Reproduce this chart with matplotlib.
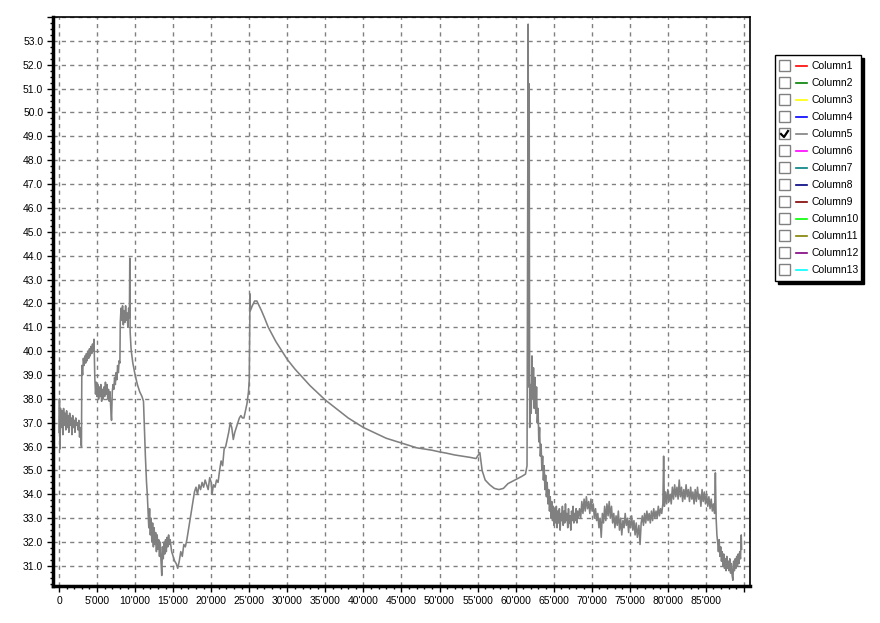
import matplotlib
matplotlib.use("Agg")
import matplotlib.pyplot as plt
from matplotlib.ticker import MultipleLocator, FuncFormatter
from matplotlib.patches import Rectangle
from matplotlib.lines import Line2D

plt.rcParams['font.family'] = ['Liberation Sans', 'DejaVu Sans']

# Column5 readings (sample index, value)
idx_a = [0, 60, 120, 200, 300, 400, 500, 600, 700, 800, 900, 1000, 1100, 1200, 1300,
         1400, 1500, 1600, 1700, 1800, 1900, 2000, 2100, 2200, 2300, 2400, 2500, 2600,
         2700, 2800, 2900, 2950]
val_a = [36.6, 38.0, 35.9, 37.6, 36.8, 37.5, 36.5, 37.6, 36.9, 37.4, 36.7, 37.5, 36.8,
         37.3, 36.6, 37.4, 36.9, 37.2, 36.5, 37.3, 36.8, 37.1, 36.6, 37.2, 36.9, 37.0,
         36.7, 37.1, 36.4, 36.8, 36.1, 36.0]

idx_b = [3000, 3100, 3200, 3300, 3400, 3500, 3600, 3700, 3800, 3900, 4000, 4100, 4200,
         4300, 4400, 4500, 4600, 4700, 4800, 4900, 5000, 5100, 5200, 5300, 5400, 5500,
         5600, 5700, 5800, 5900, 6000, 6100, 6200, 6300, 6400, 6500, 6600, 6700, 6800,
         6900, 7000, 7100, 7200, 7300, 7400, 7500, 7600, 7700, 7800, 7900, 8000]
val_b = [39.4, 39.0, 39.7, 39.4, 39.8, 39.5, 39.9, 39.6, 40.0, 39.7, 40.1, 39.8, 40.2,
         39.9, 40.3, 40.0, 40.5, 38.9, 38.2, 38.7, 38.1, 38.6, 38.0, 38.5, 38.1, 38.6,
         37.9, 38.4, 38.0, 38.5, 38.1, 38.7, 38.2, 38.6, 38.0, 38.4, 37.9, 38.3, 37.6,
         37.1, 38.3, 38.6, 38.4, 38.9, 38.6, 39.1, 38.8, 39.4, 39.1, 39.6, 39.5]

idx_c = [8050, 8150, 8250, 8350, 8450, 8550, 8650, 8750, 8850, 8950, 9050, 9150, 9250,
         9300, 9350, 9450, 9500, 9700, 10000, 10300, 10600, 10900, 11100, 11200, 11350,
         11500, 11600, 11700]
val_c = [41.2, 41.8, 41.3, 41.9, 41.1, 41.7, 41.2, 41.9, 41.3, 41.6, 41.0, 41.8, 41.4,
         43.9, 40.8, 40.2, 40.0, 39.5, 39.0, 38.6, 38.3, 38.1, 37.9, 37.0, 35.6,
         34.5, 34.0, 33.3]

idx_d = [11800, 11900, 12000, 12100, 12200, 12300, 12400, 12500, 12600, 12700, 12800,
         12900, 13000, 13100, 13200, 13300, 13400, 13500, 13600, 13700, 13800, 13900,
         14000, 14100, 14200, 14300, 14400, 14500, 14600, 14800, 15000, 15200, 15400,
         15600, 15800, 16000, 16200, 16400, 16600, 16800]
val_d = [32.6, 33.4, 32.3, 33.0, 32.0, 32.8, 31.8, 32.6, 31.9, 32.4, 31.6, 32.3, 31.7,
         32.1, 31.4, 32.0, 31.2, 30.6, 31.8, 31.3, 32.0, 31.5, 32.1, 31.6, 32.2, 31.8,
         32.3, 31.9, 32.1, 31.6, 31.4, 31.2, 31.1, 30.9, 31.2, 31.6, 31.4, 31.9, 31.8,
         32.1]

idx_e = [17000, 17200, 17400, 17600, 17800, 18000, 18200, 18400, 18600, 18800, 19000,
         19200, 19400, 19600, 19800, 20000, 20100, 20300, 20500, 20700, 20900, 21100,
         21300, 21500, 21700, 21900, 22100, 22300, 22500, 22700, 22900, 23100, 23300,
         23500, 23700, 23900, 24100, 24300, 24500, 24700, 24900, 25000]
val_e = [32.5, 32.9, 33.3, 33.7, 34.1, 34.3, 34.0, 34.4, 34.2, 34.5, 34.3, 34.6, 34.4,
         34.2, 34.7, 34.5, 34.0, 34.4, 34.3, 34.6, 34.5, 35.0, 35.4, 35.2, 35.9, 36.0,
         36.3, 36.6, 37.0, 36.8, 36.3, 36.6, 36.8, 37.0, 37.2, 37.3, 37.2, 37.2, 37.5,
         37.8, 38.3, 38.8]

idx_f = [25100, 25150, 25400, 25700, 26000, 26300, 26600, 27000, 27500, 28000, 28500,
         29000, 29500, 30000, 31000, 32000, 33000, 34000, 35000, 36000, 37000, 38000,
         39000, 40000, 41000, 42000, 43000, 44000, 45000, 46000, 47000, 48000, 49000,
         50000, 51000, 52000, 53000, 54000, 54800, 55300, 55600, 56000, 56600, 57200,
         57800, 58400, 59000, 59600, 60200, 60800, 61300, 61500]
val_f = [42.4, 41.7, 41.9, 42.1, 42.1, 41.9, 41.7, 41.4, 41.0, 40.7, 40.4, 40.15, 39.9,
         39.65, 39.25, 38.9, 38.55, 38.25, 37.95, 37.7, 37.45, 37.2, 37.0, 36.8, 36.65,
         36.5, 36.35, 36.25, 36.15, 36.05, 35.95, 35.9, 35.85, 35.78, 35.72, 35.65, 35.6,
         35.55, 35.5, 35.75, 35.0, 34.6, 34.4, 34.25, 34.2, 34.25, 34.45, 34.55, 34.65,
         34.75, 34.85, 35.2]

idx_g = [61650, 61720, 61780, 61850, 61950, 62050, 62150, 62250, 62350, 62450, 62550,
         62650, 62750, 62850, 62950, 63050, 63150, 63250, 63350, 63450, 63550, 63650,
         63750, 63850, 63950, 64050, 64150, 64250, 64350, 64450, 64550, 64650, 64750,
         64850, 64950, 65050, 65150, 65250]
val_g = [53.7, 38.5, 51.2, 36.8, 38.6, 37.4, 39.8, 38.0, 39.3, 37.6, 38.9, 37.4, 38.5,
         37.0, 37.6, 36.2, 36.8, 35.6, 36.1, 35.0, 35.6, 34.6, 35.2, 34.2, 34.8, 33.9,
         34.5, 33.6, 34.2, 33.3, 33.9, 33.0, 33.7, 32.9, 33.5, 32.7, 33.4, 32.8]

idx_h = [65350, 65450, 65550, 65650, 65750, 65850, 65950, 66050, 66150, 66250, 66350,
         66450, 66550, 66650, 66750, 66850, 66950, 67050, 67150, 67250, 67350, 67450,
         67550, 67650, 67750, 67850, 67950, 68050, 68150, 68250, 68400, 68550, 68700,
         68850, 69000, 69150, 69300, 69450, 69600, 69750, 69900, 70050, 70200, 70350,
         70500, 70650, 70800, 70950, 71100, 71250, 71400, 71550, 71700]
val_h = [33.5, 32.6, 33.3, 32.8, 33.4, 32.5, 33.2, 32.9, 33.5, 32.7, 33.3, 32.8, 33.6,
         32.9, 33.2, 32.6, 33.4, 32.8, 33.1, 32.5, 33.3, 32.9, 33.5, 32.8, 33.2, 32.9,
         33.4, 32.8, 33.3, 33.0, 33.4, 33.0, 33.7, 33.2, 33.8, 33.3, 33.9, 33.4, 33.7,
         33.2, 33.8, 33.3, 33.6, 33.0, 33.4, 32.9, 33.2, 32.6, 33.0, 32.2, 33.2, 32.8,
         33.5]

idx_i = [71850, 72000, 72150, 72300, 72450, 72600, 72750, 72900, 73050, 73200, 73350,
         73500, 73650, 73800, 73950, 74100, 74250, 74400, 74550, 74700, 74850, 74950,
         75100, 75250, 75400, 75550, 75700, 75850, 76000, 76200, 76350, 76500, 76650,
         76800, 76950, 77100, 77250, 77400, 77550, 77700, 77850, 78000, 78150, 78300,
         78450, 78600, 78750, 78900, 79050, 79200, 79350, 79450, 79550]
val_i = [32.9, 33.6, 33.1, 33.7, 33.0, 33.5, 32.8, 33.2, 32.6, 33.1, 32.7, 33.3, 32.5,
         33.0, 32.3, 32.9, 32.6, 33.2, 32.7, 33.0, 32.4, 32.9, 32.6, 33.1, 32.5, 32.9,
         32.3, 32.8, 32.2, 32.7, 31.9, 32.8, 33.1, 32.7, 33.2, 32.8, 33.3, 32.9, 33.2,
         32.8, 33.3, 32.9, 33.4, 33.0, 33.3, 33.0, 33.5, 33.1, 33.4, 33.2, 33.6, 35.6,
         33.5]

idx_j = [79700, 79850, 80000, 80150, 80300, 80450, 80600, 80750, 80900, 81050, 81200,
         81350, 81500, 81650, 81800, 81950, 82100, 82250, 82400, 82550, 82700, 82850,
         83000, 83150, 83300, 83450, 83600, 83750, 83900, 84050, 84200, 84350, 84500,
         84650, 84800, 84950, 85100, 85250, 85400, 85550, 85700, 85850, 86000, 86150,
         86250, 86350, 86450, 86550, 86650, 86750, 86850, 86950, 87050, 87150, 87250,
         87350, 87450, 87550, 87650, 87750, 87850, 87950, 88050, 88150, 88250, 88350,
         88450, 88550, 88650, 88750, 88850, 88950, 89050, 89150, 89250, 89350, 89450,
         89550, 89650, 89700]
val_j = [34.1, 33.6, 34.2, 33.7, 34.0, 33.6, 34.3, 33.8, 34.4, 33.9, 34.3, 33.8, 34.6,
         33.9, 34.3, 33.7, 34.2, 33.8, 34.4, 33.9, 34.2, 33.7, 34.3, 33.8, 34.1, 33.6,
         34.2, 33.7, 34.3, 33.8, 34.0, 33.5, 34.2, 33.7, 34.1, 33.6, 34.0, 33.5, 33.9,
         33.4, 33.8, 33.3, 33.6, 33.2, 34.9, 33.0, 32.3, 32.0, 31.6, 32.1, 31.4, 31.8,
         31.2, 31.6, 31.0, 31.5, 30.9, 31.3, 30.8, 31.4, 30.9, 31.2, 30.8, 31.3, 30.7,
         31.1, 30.6, 30.4, 31.2, 30.8, 31.3, 30.9, 31.4, 31.0, 31.5, 31.1, 31.6, 31.3,
         32.3, 31.7]

sample = idx_a + idx_b + idx_c + idx_d + idx_e + idx_f + idx_g + idx_h + idx_i + idx_j
column5 = val_a + val_b + val_c + val_d + val_e + val_f + val_g + val_h + val_i + val_j

legend_names = ["Column%d" % i for i in range(1, 14)]
legend_colors = ["#ff0000", "#008000", "#ffff00", "#0000ff", "#808080", "#ff00ff",
                 "#008080", "#000080", "#800000", "#00ff00", "#808000", "#800080",
                 "#00ffff"]
checked = "Column5"

fig = plt.figure(figsize=(8.8, 6.23), dpi=100)
ax = fig.add_axes([53 / 880, 37 / 623, 697 / 880, 569 / 623])

ax.plot(sample, column5, color="#808080", lw=1.15)

ax.set_xlim(-790, 90800)
ax.set_ylim(30.16, 54.0)
ax.xaxis.set_major_locator(MultipleLocator(5000))
ax.xaxis.set_minor_locator(MultipleLocator(1000))
ax.yaxis.set_major_locator(MultipleLocator(1.0))
ax.yaxis.set_minor_locator(MultipleLocator(0.25))
ax.xaxis.set_major_formatter(FuncFormatter(
    lambda v, p: "0" if v == 0 else ("%d'%03d" % (v // 1000, v % 1000)) if 0 < v < 90000 else ""))
ax.yaxis.set_major_formatter(FuncFormatter(
    lambda v, p: "%.1f" % v if 30.5 < v < 53.5 else ""))

ax.tick_params(which="both", top=False, right=False, direction="out")
ax.tick_params(which="major", length=4, width=1, labelsize=7.5, pad=3)
ax.tick_params(which="minor", length=2, width=1)
ax.grid(which="major", color="#808080", linestyle=(0, (3, 3)), lw=1)
ax.grid(which="minor", visible=False)

ax.spines["left"].set_linewidth(2.5)
ax.spines["bottom"].set_linewidth(2.5)
ax.spines["top"].set_linewidth(1.2)
ax.spines["right"].set_linewidth(1.2)

# legend box with checkboxes, drawn in figure pixels
def px(x, y):
    return x / 880, 1 - y / 623

lx0, ly0, lx1, ly1 = 775, 55, 861, 281
sx, sy = px(lx0 + 3, ly1 + 3)
fig.patches.append(Rectangle((sx, sy), (lx1 - lx0) / 880, (ly1 - ly0) / 623,
                             transform=fig.transFigure, facecolor="black", edgecolor="black"))
bx, by = px(lx0, ly1)
fig.patches.append(Rectangle((bx, by), (lx1 - lx0) / 880, (ly1 - ly0) / 623,
                             transform=fig.transFigure, facecolor="white", edgecolor="black", lw=1))

for i, (name, col) in enumerate(zip(legend_names, legend_colors)):
    yc = 66 + 17 * i
    cx, cy = px(779, yc + 5)
    fig.patches.append(Rectangle((cx, cy), 11 / 880, 11 / 623, transform=fig.transFigure,
                                 facecolor="white", edgecolor="#808080", lw=1))
    if name == checked:
        xs = [781, 784, 788]
        ys = [yc, yc + 3, yc - 3]
        fig.lines.append(Line2D([x / 880 for x in xs], [1 - y / 623 for y in ys],
                                transform=fig.transFigure, color="black", lw=1.6))
    fig.lines.append(Line2D([796 / 880, 807 / 880], [1 - yc / 623] * 2,
                            transform=fig.transFigure, color=col, lw=1.2))
    tx, ty = px(811, yc)
    fig.text(tx, ty, name, fontsize=7.5, va="center", ha="left")

fig.savefig("out.png", dpi=100)
